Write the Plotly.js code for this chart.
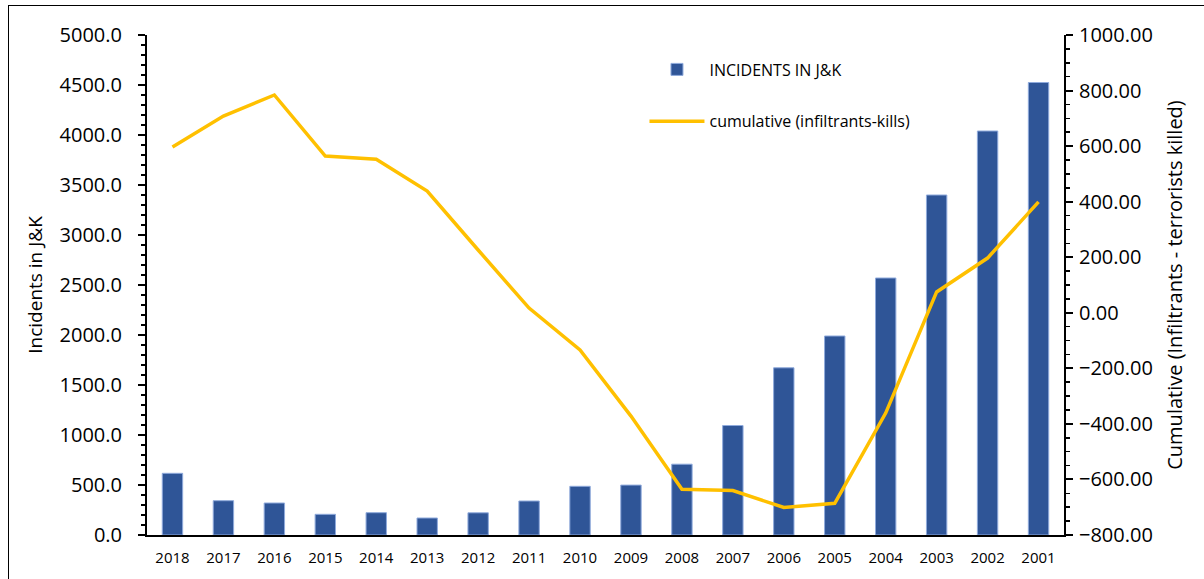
<!DOCTYPE html>
<html>
<head>
<meta charset="utf-8">
<script src="https://cdn.plot.ly/plotly-3.0.1.min.js"></script>
<style>
html,body{margin:0;padding:0;background:#fff;}
#frame{position:absolute;left:8px;top:5px;width:1210px;height:590px;border:1.5px solid #000;box-sizing:border-box;}
#chart{position:absolute;left:0;top:0;width:1204px;height:579px;}
</style>
</head>
<body>
<div id="frame"></div>
<div id="chart"></div>
<script>
const years = ['2018','2017','2016','2015','2014','2013','2012','2011','2010','2009','2008','2007','2006','2005','2004','2003','2002','2001'];
const incidents = [617, 343, 320, 207, 223, 170, 222, 340, 487, 499, 708, 1095, 1672, 1990, 2570, 3400, 4040, 4525];
const cumulative = [597, 708, 784, 564, 553, 438, 226, 17, -134, -372, -635, -640, -701, -686, -361, 75, 197, 399];

const font = '"Open Sans", "Noto Sans", sans-serif';

const traces = [
  {
    type: 'bar', x: years, y: incidents, name: 'INCIDENTS IN J&K',
    marker: {color: '#2F5597', line: {color: '#8FAADC', width: 1}},
    legendgroup: 'a', yaxis: 'y'
  },
  {
    type: 'scatter', mode: 'lines', x: years, y: cumulative, name: 'cumulative (infiltrants-kills)',
    line: {color: '#FFC000', width: 3.5}, legendgroup: 'b', yaxis: 'y2'
  }
];

const layout = {
  width: 1204, height: 579,
  margin: {l: 147, r: 140, t: 35, b: 44},
  paper_bgcolor: 'rgba(0,0,0,0)', plot_bgcolor: '#fff',
  font: {family: font, color: '#000'},
  bargap: 0.6,
  showlegend: true,
  legend: {
    x: 0.5425, y: 0.965, xanchor: 'left', yanchor: 'top',
    font: {size: 16, family: font, color: '#000'},
    itemwidth: 55,
    traceorder: 'grouped', tracegroupgap: 28, bgcolor: 'rgba(0,0,0,0)'
  },
  xaxis: {
    type: 'category', showgrid: false, showline: true, linecolor: '#000', linewidth: 2,
    ticks: '', ticklabelstandoff: 8, tickfont: {size: 15, family: font, color: '#000'}, mirror: false
  },
  yaxis: {
    range: [0, 5000], dtick: 500, tickformat: '.1f', showgrid: false, zeroline: false,
    showline: true, linecolor: '#000', linewidth: 2,
    ticks: 'outside', ticklen: 7, tickwidth: 2, tickcolor: '#000', ticklabelstandoff: 12,
    minor: {dtick: 100, ticks: 'outside', ticklen: 4, tickwidth: 1.5, tickcolor: '#000'},
    tickfont: {size: 20, family: font, color: '#000'},
    title: {text: 'Incidents in J&K', font: {size: 19, family: font, color: '#000'}, standoff: 12}
  },
  yaxis2: {
    overlaying: 'y', side: 'right', range: [-800, 1000], dtick: 200, tickformat: '.2f',
    showgrid: false, zeroline: false, showline: true, linecolor: '#000', linewidth: 2,
    ticks: 'outside', ticklen: 7, tickwidth: 2, tickcolor: '#000', ticklabelstandoff: 2,
    minor: {dtick: 50, ticks: 'outside', ticklen: 4, tickwidth: 1.5, tickcolor: '#000'},
    tickfont: {size: 20, family: font, color: '#000'},
    title: {text: 'Cumulative (Infiltrants - terrorists killed)', font: {size: 20, family: font, color: '#000'}, standoff: 16}
  }
};

Plotly.newPlot('chart', traces, layout, {displayModeBar: false, staticPlot: true});
</script>
</body>
</html>
